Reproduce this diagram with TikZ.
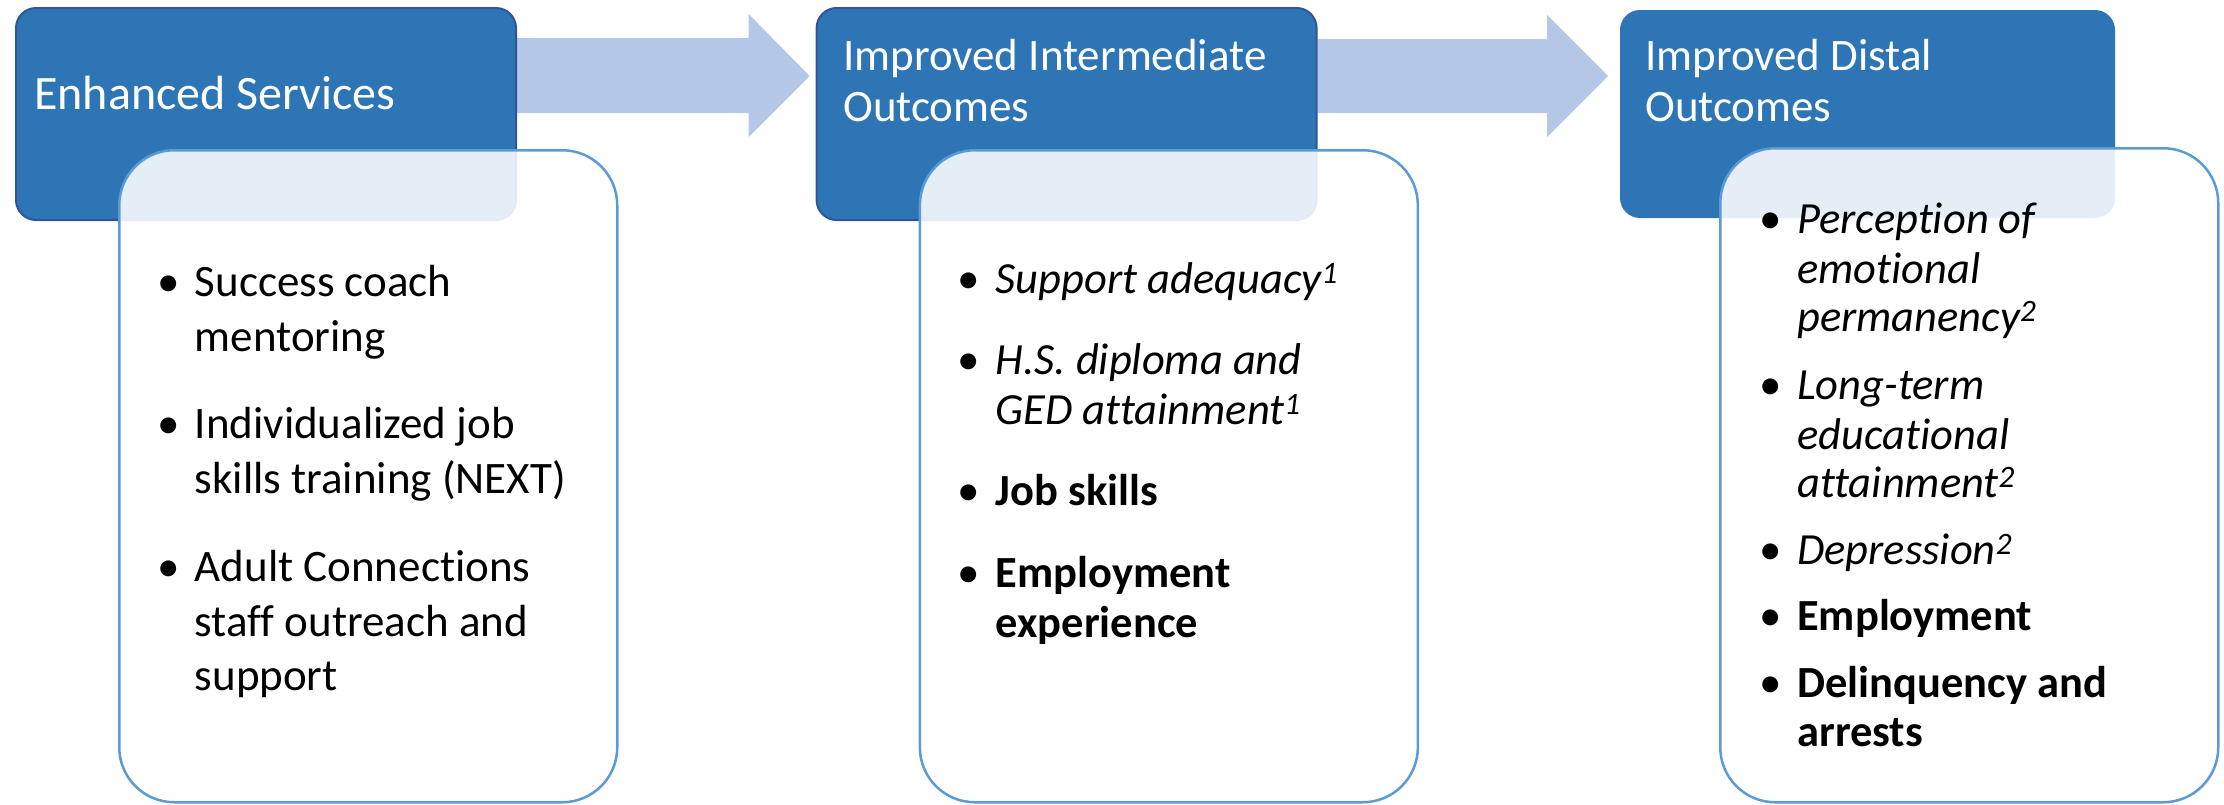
\documentclass[tikz,border=0pt]{standalone}
\usepackage{fontspec}
\setmainfont{Carlito}[Ligatures={NoCommon,NoContextual}]
\usetikzlibrary{calc}
\definecolor{hdfill}{RGB}{46,117,182}
\definecolor{hdborder}{RGB}{47,85,151}
\definecolor{pnborder}{RGB}{91,155,213}
\definecolor{arrfill}{RGB}{180,199,231}
\tikzset{
  head/.style={draw=hdborder, fill=hdfill, rounded corners=20, line width=2, minimum width=500, minimum height=212, anchor=north west, inner sep=0},
  panel/.style={draw=pnborder, fill=white, fill opacity=0.88, draw opacity=1, rounded corners=55, line width=2.5, minimum width=498, minimum height=652, anchor=north west, inner sep=0},
  arr/.style={fill=arrfill, draw=none},
  htext/.style={anchor=base west, inner sep=0, text=white, font=\fontsize{48}{52}\selectfont},
  htexts/.style={anchor=base west, inner sep=0, text=white, font=\fontsize{45}{52}\selectfont},
  txt/.style={anchor=base west, inner sep=0, text=black, font=\fontsize{45}{55}\selectfont},
  txtb/.style={anchor=base west, inner sep=0, text=black, font=\fontsize{44.5}{50}\selectfont},
  bul/.style={anchor=base, inner sep=0, text=black, font=\fontsize{45}{55}\selectfont},
}
\begin{document}
\begin{tikzpicture}[x=1pt,y=-1pt]
\useasboundingbox (0,0) rectangle (2224,804);
\fill[white] (0,0) rectangle (2224,804);
\path (15,7) coordinate (h1pos) (815.6,7) coordinate (h2pos) (1619,9) coordinate (h3pos);
\path (118,149) coordinate (p1pos) (918.6,149) coordinate (p2pos) (1719,147) coordinate (p3pos);
% guide nodes for the arrows
\node[head, draw=none, fill=none] (h1g) at (h1pos) {};
\node[head, draw=none, fill=none] (h2g) at (h2pos) {};
\node[head, draw=none, fill=none, minimum width=495, minimum height=208] (h3g) at (h3pos) {};
% arrows
\fill[arr] ($(h1g.north east)+(0,31)$) -- ($(h2g.north west)+(-67,31)$) -- ($(h2g.north west)+(-67,7)$) -- ($(h2g.north west)+(-6,69)$) -- ($(h2g.north west)+(-67,130)$) -- ($(h2g.north west)+(-67,106)$) -- ($(h1g.north east)+(0,106)$) -- cycle;
\fill[arr] ($(h2g.north east)+(0,32)$) -- ($(h3g.north west)+(-72,30)$) -- ($(h3g.north west)+(-72,6)$) -- ($(h3g.north west)+(-11,67)$) -- ($(h3g.north west)+(-72,128)$) -- ($(h3g.north west)+(-72,104)$) -- ($(h2g.north east)+(0,106)$) -- cycle;
% dark boxes
\node[head] (h1) at (h1pos) {};
\node[head] (h2) at (h2pos) {};
\node[head, draw=none, minimum width=495, minimum height=208] (h3) at (h3pos) {};
% panels
\node[panel] (p1) at (p1pos) {};
\node[panel] (p2) at (p2pos) {};
\node[panel, minimum height=654] (p3) at (p3pos) {};
% header texts
\node[htext] (t1) at (34,109) {Enhanced Services};
\node[htexts] (t2a) at (843,70) {Improved Intermediate};
\node[htexts] (t2b) at (843,121) {Outcomes};
\node[htexts] (t3a) at (1645,70.5) {Improved Distal};
\node[htexts] (t3b) at (1645,121) {Outcomes};
% panel 1
\node[bul] (b11) at (168.5,296) {•};
\node[txt] (l11a) at (194.6,296) {Success coach};
\node[txt] (l11b) at (194.6,351) {mentoring};
\node[bul] (b12) at (168.5,438) {•};
\node[txt] (l12a) at (194.6,438) {Individualized job};
\node[txt] (l12b) at (194.6,493) {skills training (NEXT)};
\node[bul] (b13) at (168.5,581) {•};
\node[txt] (l13a) at (194.6,581) {Adult Connections};
\node[txt] (l13b) at (194.6,636) {staff outreach and};
\node[txt] (l13c) at (194.6,690) {support};
% panel 2
\node[bul] (b21) at (969,293) {•};
\node[txtb] (l21a) at (995.5,293) {\itshape Support adequacy\textsuperscript{1}};
\node[bul] (b22) at (969,374) {•};
\node[txtb] (l22a) at (995.5,374) {\itshape H.S. diploma and};
\node[txtb] (l22b) at (995.5,424) {\itshape GED attainment\textsuperscript{1}};
\node[bul] (b23) at (969,505) {•};
\node[txtb] (l23a) at (995.5,505) {\bfseries Job skills};
\node[bul] (b24) at (969,587) {•};
\node[txtb] (l24a) at (995.5,587) {\bfseries Employment};
\node[txtb] (l24b) at (995.5,637) {\bfseries experience};
% panel 3
\node[bul] (b31) at (1770.6,233) {•};
\node[txtb] (l31a) at (1797,233) {\itshape Perception of};
\node[txtb] (l31b) at (1797,283.6) {\itshape emotional};
\node[txtb] (l31c) at (1797,331) {\itshape permanency\textsuperscript{2}};
\node[bul] (b32) at (1770.6,399) {•};
\node[txtb] (l32a) at (1797,399) {\itshape Long-term};
\node[txtb] (l32b) at (1797,449) {\itshape educational};
\node[txtb] (l32c) at (1797,497) {\itshape attainment\textsuperscript{2}};
\node[bul] (b33) at (1770.6,564) {•};
\node[txtb] (l33a) at (1797,564) {\itshape Depression\textsuperscript{2}};
\node[bul] (b34) at (1770.6,630) {•};
\node[txtb] (l34a) at (1797,630) {\bfseries Employment};
\node[bul] (b35) at (1770.6,697) {•};
\node[txtb] (l35a) at (1797,697) {\bfseries Delinquency and};
\node[txtb] (l35b) at (1797,746) {\bfseries arrests};
\end{tikzpicture}
\end{document}
